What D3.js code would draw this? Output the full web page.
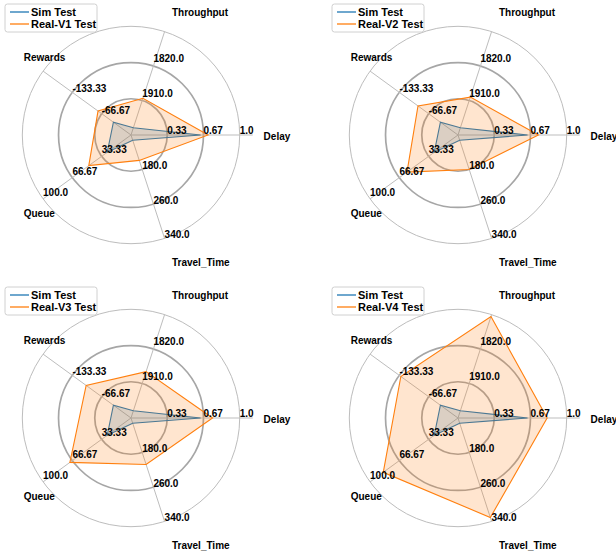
<!DOCTYPE html>
<html>
<head>
<meta charset="utf-8">
<script src="https://cdn.jsdelivr.net/npm/d3@7"></script>
<style>
	body { margin: 0; background: #fff; }
	text { font-family: "Liberation Sans", Arial, sans-serif; font-weight: bold; fill: #000; }
</style>
</head>
<body>
<svg id="chart" width="616" height="552"></svg>
<script>
// axes of every radar, counter-clockwise from the right
var axisNames = ["Delay", "Throughput", "Rewards", "Queue", "Travel_Time"];

// value at the centre and value at the outer ring, per axis
var axisRanges = [[0, 1], [2000, 1730], [0, -200], [0, 100], [100, 340]];

// ring labels per axis (inner, middle, outer)
var delayTicks = ["0.33", "0.67", "1.0"];
var throughputTicks = ["1910.0", "1820.0", ""];
var rewardsTicks = ["-66.67", "-133.33", ""];
var queueTicks = ["33.33", "66.67", "100.0"];
var travelTicks = ["180.0", "260.0", "340.0"];

// values: Delay, Throughput, Rewards, Queue, Travel_Time
var simValues = [0.64, 1981, -40, 27, 112];
var realV1 = [0.71, 1904, -75, 48, 159];
var realV2 = [0.74, 1901, -91, 58, 180];
var realV3 = [0.75, 1879, -102, 69.5, 208];
var realV4 = [0.82, 1735, -130, 85, 331];

var simName = "Sim Test";
var realNames = ["Real-V1 Test", "Real-V2 Test", "Real-V3 Test", "Real-V4 Test"];
var realSeries = [realV1, realV2, realV3, realV4];

var tickLabels = [delayTicks, throughputTicks, rewardsTicks, queueTicks, travelTicks];

var svg = d3.select("#chart");
var radius = 108.7,
		colX = [131, 458],
		rowY = [135, 418],
		blue = "#1f77b4",
		orange = "#ff7f0e",
		tickDy = [-1, -4, 0, -3, 0],
		nameDy = [1, 4, 0, 1, 1];

var angleScale = d3.scaleLinear().domain([0, axisNames.length]).range([0, 2 * Math.PI]);
var ringScale = d3.scaleLinear().domain([0, 3]).range([0, radius]);
var valueScales = axisRanges.map(function(r) {
	return d3.scaleLinear().domain(r).range([0, radius]);
});

// d3 radial angle: 0 at 12 o'clock, clockwise
function radialAngle(i) { return Math.PI / 2 - angleScale(i); }
function px(i, r) { return r * Math.cos(angleScale(i)); }
function py(i, r) { return -r * Math.sin(angleScale(i)); }

var radarLine = d3.lineRadial()
		.angle(function(d, i) { return radialAngle(i); })
		.radius(function(d, i) { return valueScales[i](d); })
		.curve(d3.curveLinearClosed);

function drawPanel(k) {
	var cx = colX[k % 2], cy = rowY[Math.floor(k / 2)];
	var g = svg.append("g").attr("transform", "translate(" + cx + "," + cy + ")");

	// outer ring
	g.append("circle")
			.attr("r", ringScale(3))
			.attr("fill", "none")
			.attr("stroke", "#bdbdbd")
			.attr("stroke-width", 1);

	// inner rings (overlapping grids make them heavier)
	g.selectAll(".ring")
			.data([1, 2])
		.enter().append("circle")
			.attr("class", "ring")
			.attr("r", function(d) { return ringScale(d); })
			.attr("fill", "none")
			.attr("stroke", "#a6a6a6")
			.attr("stroke-width", 1.7);

	// spokes
	g.selectAll(".spoke")
			.data(axisNames)
		.enter().append("line")
			.attr("class", "spoke")
			.attr("x1", 0).attr("y1", 0)
			.attr("x2", function(d, i) { return px(i, i === 0 ? radius * 1.12 : radius); })
			.attr("y2", function(d, i) { return py(i, i === 0 ? radius * 1.12 : radius); })
			.attr("stroke", "#bdbdbd")
			.attr("stroke-width", 1);

	// series
	var series = [
		{name: simName, values: simValues, color: blue},
		{name: realNames[k], values: realSeries[k], color: orange}
	];
	g.selectAll(".area")
			.data(series)
		.enter().append("path")
			.attr("class", "area")
			.attr("d", function(d) { return radarLine(d.values); })
			.attr("fill", function(d) { return d.color; })
			.attr("fill-opacity", 0.2)
			.attr("stroke", function(d) { return d.color; })
			.attr("stroke-width", 1.1)
			.attr("stroke-linejoin", "miter");

	// ring labels along each axis
	tickLabels.forEach(function(ticks, i) {
		ticks.forEach(function(t, j) {
			if (!t) return;
			var r = ringScale(j + 1);
			g.append("text")
					.attr("x", px(i, r))
					.attr("y", py(i, r) + tickDy[i])
					.attr("font-size", 10)
					.text(t);
		});
	});

	// axis names
	g.selectAll(".axis-name")
			.data(axisNames)
		.enter().append("text")
			.attr("class", "axis-name")
			.attr("x", function(d, i) { return px(i, radius * 1.22); })
			.attr("y", function(d, i) { return py(i, radius * 1.22) + nameDy[i]; })
			.attr("dy", "0.35em")
			.attr("font-size", 10)
			.text(function(d) { return d; });

	// legend
	var lg = g.append("g").attr("transform", "translate(-126,-131)");
	lg.append("rect")
			.attr("width", 92).attr("height", 28)
			.attr("rx", 2.5)
			.attr("fill", "#fff").attr("fill-opacity", 0.8)
			.attr("stroke", "#d0d0d0").attr("stroke-width", 1);
	series.forEach(function(s, j) {
		var y = 8 + j * 12;
		lg.append("line")
				.attr("x1", 5).attr("x2", 24)
				.attr("y1", y).attr("y2", y)
				.attr("stroke", s.color).attr("stroke-width", 1.3);
		lg.append("text")
				.attr("x", 26)
				.attr("y", y + 4)
				.attr("font-size", 11)
				.text(s.name);
	});
}

[0, 1, 2, 3].forEach(drawPanel);
</script>
</body>
</html>
